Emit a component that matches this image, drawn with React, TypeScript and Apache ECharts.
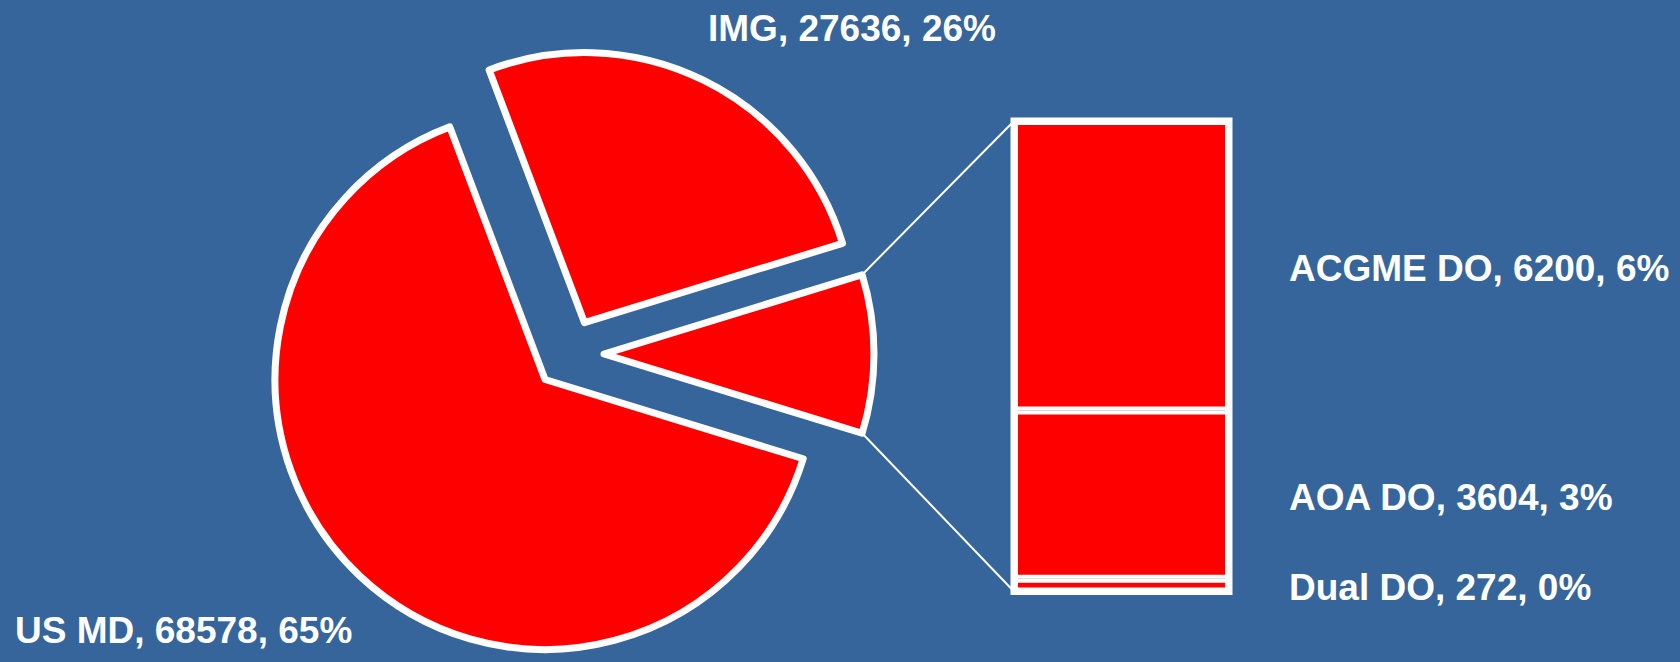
import React, { useEffect, useRef } from 'react';
import * as echarts from 'echarts';

// ---- data ----
const mainNames = ['US MD', 'IMG'];
const mainValues = [68578, 27636];
const otherName = 'DO';
const subNames = ['ACGME DO', 'AOA DO', 'Dual DO'];
const subValues = [6200, 3604, 272];

// ---- styling / layout ----
const BG = '#35659A';
const RED = '#FF0000';
const FONT = "'Liberation Sans', Arial, sans-serif";

export default function App() {
  const ref = useRef<HTMLDivElement>(null);

  useEffect(() => {
    document.body.style.margin = '0';
    const chart = echarts.init(ref.current!, null, { renderer: 'svg' });

    const otherTotal = subValues.reduce((a, b) => a + b, 0);
    const grand = mainValues.reduce((a, b) => a + b, 0) + otherTotal;
    const otherAngle = (otherTotal / grand) * 360;
    const pct = (v: number) => Math.round((v / grand) * 100);

    const cx = 569, cy = 354, R = 270, OFF = 35;
    const barLeft = 1014, barW = 215, barTop = 121, barBottom = 591.5;

    const half = ((otherAngle / 2) * Math.PI) / 180;
    const ex = cx + OFF;
    const p1 = [ex + R * Math.cos(half), cy - R * Math.sin(half)];
    const p2 = [ex + R * Math.cos(half), cy + R * Math.sin(half)];

    const labelPos: number[][] = [[15, 630], [708, 28]];
    const txt = { fill: '#fff', fontSize: 37, fontWeight: 'bold' as const, fontFamily: FONT };

    const pieData = [
      { name: otherName, value: otherTotal, selected: true },
      ...mainNames.map((n, i) => ({ name: n, value: mainValues[i], selected: true })),
    ];

    const pieItemStyle = { color: RED, borderColor: '#fff', borderWidth: 7, borderJoin: 'round' };

    const barSeries = [2, 1, 0].map((i) => ({
      type: 'bar',
      name: subNames[i],
      stack: 'do',
      data: [subValues[i]],
      barWidth: '100%',
      silent: true,
      itemStyle: { color: RED, borderColor: '#fff', borderWidth: 4 },
      emphasis: { disabled: true },
      label: {
        show: true,
        position: 'right',
        distance: 60,
        offset: [0, 2.5],
        formatter: (p: any) => `${p.seriesName}, ${p.value}, ${pct(p.value)}%`,
        color: '#fff',
        fontSize: 37,
        fontWeight: 'bold',
        fontFamily: FONT,
      },
    }));

    chart.setOption({
      animation: false,
      backgroundColor: BG,
      grid: {
        left: barLeft, top: barTop, width: barW, height: barBottom - barTop,
        show: true, borderColor: '#fff', borderWidth: 7, backgroundColor: 'transparent',
      },
      xAxis: { type: 'category', data: [otherName], show: false },
      yAxis: { type: 'value', min: 0, max: otherTotal, show: false },
      graphic: [
        { type: 'line', z: -10, silent: true, shape: { x1: p1[0], y1: p1[1], x2: barLeft, y2: barTop }, style: { stroke: '#fff', lineWidth: 2 } },
        { type: 'line', z: -10, silent: true, shape: { x1: p2[0], y1: p2[1], x2: barLeft, y2: barBottom }, style: { stroke: '#fff', lineWidth: 2 } },
        ...mainNames.map((n, i) => ({
          type: 'text',
          silent: true,
          x: labelPos[i][0],
          y: labelPos[i][1],
          style: { ...txt, text: `${n}, ${mainValues[i]}, ${pct(mainValues[i])}%`, align: 'left', verticalAlign: 'middle' },
        })),
      ],
      series: [
        {
          type: 'pie',
          center: [cx, cy],
          radius: [0, R],
          startAngle: otherAngle / 2,
          clockwise: true,
          selectedMode: 'multiple',
          selectedOffset: OFF,
          silent: true,
          itemStyle: pieItemStyle,
          select: { itemStyle: pieItemStyle },
          emphasis: { disabled: true },
          label: { show: false },
          labelLine: { show: false },
          data: pieData,
        },
        ...barSeries,
      ],
    });

    return () => chart.dispose();
  }, []);

  return <div ref={ref} style={{ width: 1680, height: 662 }} />;
}
